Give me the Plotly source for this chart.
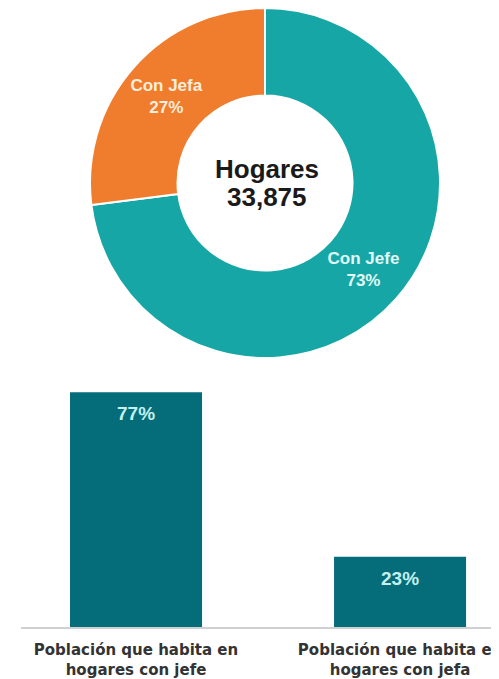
import plotly.graph_objects as go

# Donut data (drawn clockwise from 12 o'clock)
hogar_labels = ["Con Jefe", "Con Jefa"]
hogar_pct = [73, 27]
hogar_colors = ["#17a6a6", "#ef7d2d"]
hogar_text_colors = ["#e2fafa", "#fbeedd"]
hogares_title = "Hogares"
hogares_total = "33,875"

# Bar data
pob_categories = ["Población que habita en<br>hogares con jefe",
                  "Población que habita en<br>hogares con jefa"]
pob_pct = [77, 23]

W, H = 499, 679
OFF = 8  # page body margin
FONT = "Liberation Sans, Arial, sans-serif"


def px(x):
    return (x - OFF) / W


def py(y):
    return 1 - (y - OFF) / H


fig = go.Figure()

fig.add_trace(go.Pie(
    labels=hogar_labels,
    values=hogar_pct,
    marker=dict(colors=hogar_colors, line=dict(color="white", width=2)),
    hole=0.5,
    sort=False,
    direction="clockwise",
    rotation=0,
    texttemplate="<b>%{label}<br>%{value}%</b>",
    textposition="inside",
    insidetextorientation="horizontal",
    textfont=dict(family=FONT, size=17, color=hogar_text_colors),
    showlegend=False,
    hoverinfo="skip",
    domain=dict(x=[px(90), px(440)], y=[py(358), py(8)]),
))

fig.add_trace(go.Bar(
    x=[0, 1],
    y=pob_pct,
    width=0.5,
    marker=dict(color="#056c7a", line=dict(width=0)),
    showlegend=False,
    hoverinfo="skip",
    xaxis="x", yaxis="y",
))

for i, v in enumerate(pob_pct):
    fig.add_annotation(
        x=i, y=v, xref="x", yref="y", yanchor="top", yshift=-9,
        text=f"<b>{v}%</b>", showarrow=False,
        font=dict(family=FONT, size=19, color="#c4f0f0"),
    )

fig.add_annotation(
    text=f"<b>{hogares_title}</b>",
    x=px(267), y=py(169), xref="paper", yref="paper", yanchor="middle",
    showarrow=False, font=dict(family=FONT, size=26, color="#1a1a1a"),
)
fig.add_annotation(
    text=f"<b>{hogares_total}</b>",
    x=px(267), y=py(197), xref="paper", yref="paper", yanchor="middle",
    showarrow=False, font=dict(family=FONT, size=26, color="#1a1a1a"),
)

fig.update_layout(
    width=W, height=H,
    margin=dict(l=0, r=0, t=0, b=0),
    paper_bgcolor="white", plot_bgcolor="white",
    font=dict(family=FONT),
    xaxis=dict(
        domain=[px(21), 1.0],
        range=[-0.4356, 1.405],
        tickmode="array",
        tickvals=[0, 1],
        ticktext=[f"<b>{c}</b>" for c in pob_categories],
        tickfont=dict(family="DejaVu Sans, sans-serif", size=15, color="#333333"),
        ticklabelstandoff=8,
        showline=True, linecolor="#d0d0d0", linewidth=2,
        showgrid=False, zeroline=False, ticks="",
        automargin=False,
    ),
    yaxis=dict(
        domain=[py(627), py(383)],
        range=[0, 80],
        visible=False,
        showgrid=False, zeroline=False,
        automargin=False,
    ),
)

fig.write_html("out.html")
